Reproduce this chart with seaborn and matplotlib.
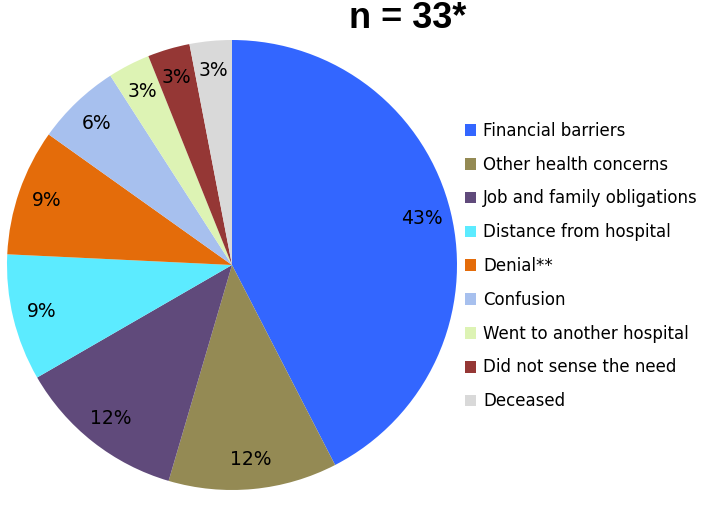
import matplotlib
matplotlib.use('Agg')
import matplotlib.pyplot as plt
import seaborn as sns

# reasons (counts out of n = 33)
reasons = ['Financial barriers', 'Other health concerns', 'Job and family obligations',
           'Distance from hospital', 'Denial**', 'Confusion', 'Went to another hospital',
           'Did not sense the need', 'Deceased']
counts = [14, 4, 4, 3, 3, 2, 1, 1, 1]
pct_labels = ['43%', '12%', '12%', '9%', '9%', '6%', '3%', '3%', '3%']
colors = ['#3366FF', '#948A54', '#604A7B', '#5CEBFF', '#E46C0A',
          '#A7C0EE', '#DDF3B4', '#953735', '#D9D9D9']

sns.set_theme(style='white')
plt.rcParams['font.family'] = ['DejaVu Sans']
plt.rcParams['text.color'] = 'black'

fig = plt.figure(figsize=(7.03, 5.05), dpi=100)
ax = fig.add_axes([7 / 703, 15 / 505, 450 / 703, 450 / 505])

pal = sns.color_palette(colors)
wedges, texts = ax.pie(counts, labels=pct_labels, colors=pal, startangle=90,
                       counterclock=False, labeldistance=0.87,
                       textprops={'fontsize': 13.5, 'color': 'black'},
                       wedgeprops={'linewidth': 0})
for t in texts:
    t.set_ha('center')
    t.set_va('center')
ax.set_xlim(-1, 1)
ax.set_ylim(-1, 1)
ax.set_aspect('equal')

fig.text(408 / 703, 1 - 18 / 505, 'n = 33*', ha='center', va='center', color='black',
         fontsize=26, fontweight='bold', family=['Liberation Sans', 'DejaVu Sans'])

leg = fig.legend(wedges, reasons, loc='center left', bbox_to_anchor=(458 / 703, 1 - 266 / 505),
                 frameon=False, fontsize=12, handlelength=0.7, handleheight=0.7,
                 handletextpad=0.4, labelspacing=0.95, borderaxespad=0)
for t in leg.get_texts():
    t.set_color('black')

fig.savefig('out.png', dpi=100)
